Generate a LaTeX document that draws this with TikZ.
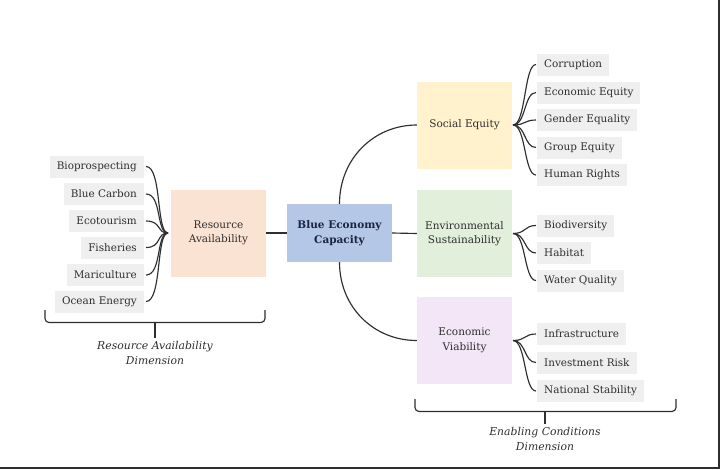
\documentclass[tikz,border=0pt]{standalone}
\usepackage{fontspec}
\setmainfont{DejaVu Serif}
\definecolor{itemgray}{HTML}{EFEFEF}
\definecolor{txt}{HTML}{2E2E2E}
\definecolor{linec}{HTML}{2E2E2E}
\definecolor{raC}{HTML}{FBE3D4}
\definecolor{becC}{HTML}{B4C7E7}
\definecolor{seC}{HTML}{FFF2CC}
\definecolor{esC}{HTML}{E2EFDA}
\definecolor{evC}{HTML}{F3E6F6}
\definecolor{navy}{HTML}{1A2540}
\begin{document}
\begin{tikzpicture}[x=1pt,y=-1pt,
  item/.style={fill=itemgray, minimum height=22pt, inner xsep=7pt, inner ysep=0pt,
    font=\fontsize{10.4}{13}\selectfont, text=txt},
  cat/.style={minimum width=95pt, minimum height=87pt, inner sep=2pt, align=center,
    font=\fontsize{10.5}{14.5}\selectfont, text=txt},
  becbox/.style={fill=becC, minimum width=105pt, minimum height=58pt, inner sep=2pt,
    align=center, font=\fontsize{10.5}{14.5}\selectfont\bfseries, text=navy},
  link/.style={draw=linec, line width=1.15pt},
  dimlabel/.style={anchor=north, inner sep=3pt, align=center,
    font=\fontsize{10.8}{15.5}\selectfont\itshape, text=txt},
  framel/.style={draw=linec, line width=1.6pt}]
\useasboundingbox (0,0) rectangle (720,469);

% main boxes
\node[cat, fill=raC] (ra) at (218.5,233) {Resource\\Availability};
\node[becbox] (bec) at (339.5,233) {Blue Economy\\Capacity};
\node[cat, fill=seC] (se) at (464.5,125) {Social Equity};
\node[cat, fill=esC] (es) at (464.5,233.5) {Environmental\\Sustainability};
\node[cat, fill=evC] (ev) at (464.5,340.5) {Economic\\Viability};

% left items
\node[item, anchor=east] (l1) at (144,166.5) {Bioprospecting};
\node[item, anchor=east] (l2) at (144,194) {Blue Carbon};
\node[item, anchor=east] (l3) at (144,221) {Ecotourism};
\node[item, anchor=east] (l4) at (144,247.5) {Fisheries};
\node[item, anchor=east] (l5) at (144,275) {Mariculture};
\node[item, anchor=east] (l6) at (144,301.5) {Ocean Energy};

% right items
\node[item, anchor=west] (s1) at (537,64.5) {Corruption};
\node[item, anchor=west] (s2) at (537,92.5) {Economic Equity};
\node[item, anchor=west] (s3) at (537,120) {Gender Equality};
\node[item, anchor=west] (s4) at (537,147.5) {Group Equity};
\node[item, anchor=west] (s5) at (537,175) {Human Rights};
\node[item, anchor=west] (e1) at (537,225.5) {Biodiversity};
\node[item, anchor=west] (e2) at (537,253) {Habitat};
\node[item, anchor=west] (e3) at (537,280.5) {Water Quality};
\node[item, anchor=west] (v1) at (537,334) {Infrastructure};
\node[item, anchor=west] (v2) at (537,362.5) {Investment Risk};
\node[item, anchor=west] (v3) at (537,391) {National Stability};

% hubs
\coordinate (lh) at (168,233);
\coordinate (seh) at (513,125);
\coordinate (esh) at (513,233.5);
\coordinate (evh) at (513,340.5);

% left brace curves
\foreach \n in {l1,l2,l3,l4,l5,l6}
  \draw[link] ([xshift=2pt]\n.east) .. controls +(16,0) and +(-12,0) .. (lh);
% right brace curves
\foreach \n in {s1,s2,s3,s4,s5}
  \draw[link] (seh) .. controls +(13,0) and +(-12,0) .. ([xshift=-1pt]\n.west);
\foreach \n in {e1,e2,e3}
  \draw[link] (esh) .. controls +(13,0) and +(-12,0) .. ([xshift=-1pt]\n.west);
\foreach \n in {v1,v2,v3}
  \draw[link] (evh) .. controls +(13,0) and +(-12,0) .. ([xshift=-1pt]\n.west);

% central connectors
\draw[link] (ra.east) -- (bec.west);
\draw[link] (bec.east) -- (es.west);
\draw[link] (bec.north) .. controls +(0,-45) and +(-43,0) .. (se.west);
\draw[link] (bec.south) .. controls +(0,45) and +(-43,0) .. (ev.west);

% dimension labels and brackets
\node[dimlabel] (ldim) at (155,338) {Resource Availability\\Dimension};
\node[dimlabel] (rdim) at (545,424) {Enabling Conditions\\Dimension};
\draw[link, rounded corners=4pt] (45,310) -- (45,322.5) -- (265,322.5) -- (265,310);
\draw[link] (155,322.5) -- (ldim.north);
\draw[link, rounded corners=4pt] (415,399) -- (415,411.5) -- (676,411.5) -- (676,399);
\draw[link] (545,411.5) -- (rdim.north);

% frame edges
\draw[framel] (718.8,0) -- (718.8,469);
\draw[framel] (0,467.8) -- (720,467.8);
\end{tikzpicture}
\end{document}
